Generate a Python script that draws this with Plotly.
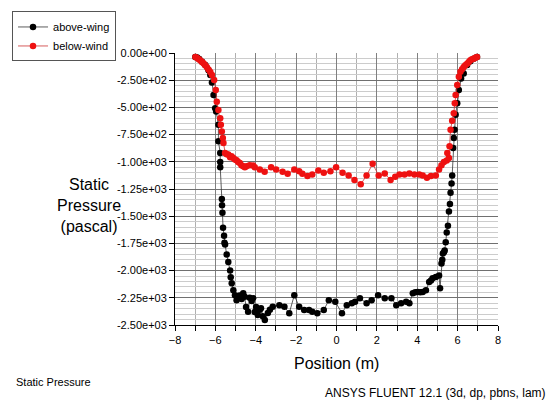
import plotly.graph_objects as go

# above-wing (black)
above_x = [-6.99, -6.9, -6.8, -6.66, -6.5, -6.34, -6.25, -6.17, -6.09, -6.01, -5.96, -5.85, -5.85, -5.76, -5.76, -5.76,
           -5.68, -5.67, -5.65, -5.62, -5.57, -5.55, -5.52, -5.44, -5.36, -5.27, -5.24, -5.19, -5.11, -5.03, -4.95,
           -4.9, -4.8, -4.7, -4.62, -4.55, -4.48, -4.38, -4.3, -4.2, -4.13, -4.05, -3.98, -3.9, -3.8, -3.74, -3.65,
           -3.55, -3.4, -3.3, -3.16, -2.83, -2.58, -2.34, -2.09, -1.85, -1.6, -1.36, -1.2, -0.95, -0.63, -0.38,
           -0.06, 0.27, 0.51, 0.76, 0.92, 1.16, 1.49, 1.74, 2.06, 2.39, 2.72, 2.96, 3.2, 3.45, 3.61, 3.78, 3.9,
           4.02, 4.15, 4.27, 4.43, 4.59, 4.68, 4.76, 4.92, 5.08, 5.13, 5.2, 5.24, 5.27, 5.32, 5.36, 5.41, 5.46,
           5.52, 5.57, 5.62, 5.65, 5.7, 5.73, 5.78, 5.81, 5.85, 5.9, 5.98, 6.06, 6.17, 6.3, 6.47, 6.63, 6.79, 6.96]
above_p = [-37, -42, -55, -80, -110, -158, -203, -270, -386, -508, -538, -660, -812, -918, -1001, -1049,
           -1341, -1400, -1469, -1606, -1680, -1743, -1760, -1852, -1922, -2000, -2060, -2117, -2180, -2226, -2272,
           -2250, -2230, -2260, -2208, -2240, -2335, -2378, -2250, -2280, -2254, -2380, -2335, -2409, -2360, -2345,
           -2420, -2454, -2390, -2360, -2333, -2318, -2333, -2391, -2226, -2333, -2363, -2363, -2378, -2391, -2363,
           -2272, -2287, -2391, -2318, -2300, -2287, -2254, -2300, -2272, -2226, -2254, -2254, -2318, -2300, -2287,
           -2300, -2208, -2200, -2196, -2200, -2196, -2181, -2105, -2090, -2071, -2059, -2044, -2162, -1934, -1900,
           -1843, -1831, -1816, -1740, -1649, -1588, -1457, -1387, -1284, -1200, -1125, -873, -782, -705, -568,
           -462, -340, -234, -189, -110, -75, -52, -37]

# below-wind (red)
below_x = [-6.99, -6.9, -6.82, -6.74, -6.66, -6.58, -6.5, -6.42, -6.34, -6.25, -6.17, -6.06, -5.98, -5.93, -5.85,
           -5.76, -5.73, -5.68, -5.63, -5.6, -5.52, -5.44, -5.36, -5.27, -5.2, -5.11, -5.03, -4.95, -4.87, -4.79,
           -4.71, -4.62, -4.54, -4.46, -4.3, -4.13, -4.05, -3.8, -3.56, -3.24, -2.99, -2.67, -2.42, -2.09, -1.85,
           -1.69, -1.44, -1.2, -0.9, -0.63, -0.3, -0.02, 0.3, 0.6, 0.89, 1.2, 1.49, 1.79, 2.09, 2.39, 2.68, 2.91,
           3.12, 3.37, 3.61, 3.86, 4.1, 4.27, 4.48, 4.68, 4.92, 5.08, 5.2, 5.32, 5.46, 5.49, 5.57, 5.6, 5.65,
           5.73, 5.81, 5.86, 5.9, 5.98, 6.06, 6.14, 6.22, 6.3, 6.38, 6.47, 6.55, 6.63, 6.71, 6.79, 6.88, 6.96]
below_p = [-37, -45, -58, -70, -82, -96, -113, -130, -152, -175, -203, -249, -340, -447, -523,
           -599, -660, -721, -782, -827, -918, -930, -933, -958, -950, -964, -979, -985, -1001, -1010,
           -1031, -1040, -1049, -1040, -1031, -1034, -1049, -1071, -1092, -1049, -1071, -1092, -1110, -1071, -1086,
           -1110, -1131, -1116, -1080, -1101, -1086, -1049, -1101, -1125, -1168, -1207, -1125, -1019, -1125, -1107,
           -1168, -1138, -1116, -1116, -1107, -1116, -1116, -1125, -1147, -1131, -1125, -1071, -1031, -1001, -988,
           -918, -964, -858, -705, -623, -553, -462, -386, -295, -219, -173, -150, -128, -112, -98, -82, -67, -58,
           -52, -44, -37]

y_tickvals = [0, -250, -500, -750, -1000, -1250, -1500, -1750, -2000, -2250, -2500]
y_ticktext = ["0.00e+00", "-2.50e+02", "-5.00e+02", "-7.50e+02", "-1.00e+03", "-1.25e+03",
              "-1.50e+03", "-1.75e+03", "-2.00e+03", "-2.25e+03", "-2.50e+03"]
x_tickvals = [-8, -6, -4, -2, 0, 2, 4, 6, 8]

FONT = "Arial, Liberation Sans, sans-serif"

fig = go.Figure()
fig.add_trace(go.Scatter(x=above_x, y=above_p, mode="lines+markers", name="above-wing",
                         line=dict(color="#333333", width=0.8),
                         marker=dict(color="black", size=6.5)))
fig.add_trace(go.Scatter(x=below_x, y=below_p, mode="lines+markers", name="below-wind",
                         line=dict(color="#cc3333", width=0.8),
                         marker=dict(color="#ee1111", size=6.5)))

T, B = 50, 78
PW, PH = 327, 403 - T - B
BOT = 403 - B  # pixel y of plot bottom

fig.update_layout(
    width=551, height=403,
    margin=dict(l=171, r=53, t=T, b=B),
    paper_bgcolor="white", plot_bgcolor="white",
    font=dict(family=FONT, color="black"),
    showlegend=True,
    legend=dict(x=(6 - 171) / PW, y=(BOT - 8) / PH, xanchor="left", yanchor="top",
                bordercolor="#555555", borderwidth=1, bgcolor="white",
                font=dict(size=11, family=FONT), tracegroupgap=0,
                itemwidth=30),
    xaxis=dict(range=[-8, 8], tickvals=x_tickvals, ticks="outside", ticklen=5,
               tickcolor="black", tickfont=dict(size=11),
               showgrid=True, gridcolor="#808080", gridwidth=1,
               showline=True, linecolor="black", linewidth=1, zeroline=False,
               minor=dict(dtick=1, ticks="outside", ticklen=5, tickcolor="black",
                          showgrid=True, gridcolor="#b0b0b0")),
    yaxis=dict(range=[-2500, 0], tickvals=y_tickvals, ticktext=y_ticktext, ticks="outside",
               ticklen=5, tickcolor="black", tickfont=dict(size=11),
               showgrid=True, gridcolor="#707070", gridwidth=1,
               showline=True, linecolor="black", linewidth=1, zeroline=False,
               minor=dict(dtick=50, ticks="", showgrid=True, gridcolor="#cccccc")),
    annotations=[
        dict(text="Static<br>Pressure<br>(pascal)", x=(84 - 171) / PW, y=(BOT - 204) / PH,
             xref="paper", yref="paper", xanchor="center", yanchor="middle",
             showarrow=False, font=dict(size=16), align="center"),
        dict(text="Position (m)", x=0.5, y=(BOT - 364) / PH, xref="paper", yref="paper",
             xanchor="center", yanchor="middle", showarrow=False, font=dict(size=16)),
        dict(text="Static Pressure", x=(8 - 171) / PW, y=(BOT - 383) / PH, xref="paper", yref="paper",
             xanchor="left", yanchor="middle", showarrow=False, font=dict(size=11)),
        dict(text="ANSYS FLUENT 12.1 (3d, dp, pbns, lam)", x=(549 - 171) / PW, y=(BOT - 394) / PH,
             xref="paper", yref="paper", xanchor="right", yanchor="middle", showarrow=False,
             font=dict(size=12)),
    ],
)

fig.write_html("out.html")
